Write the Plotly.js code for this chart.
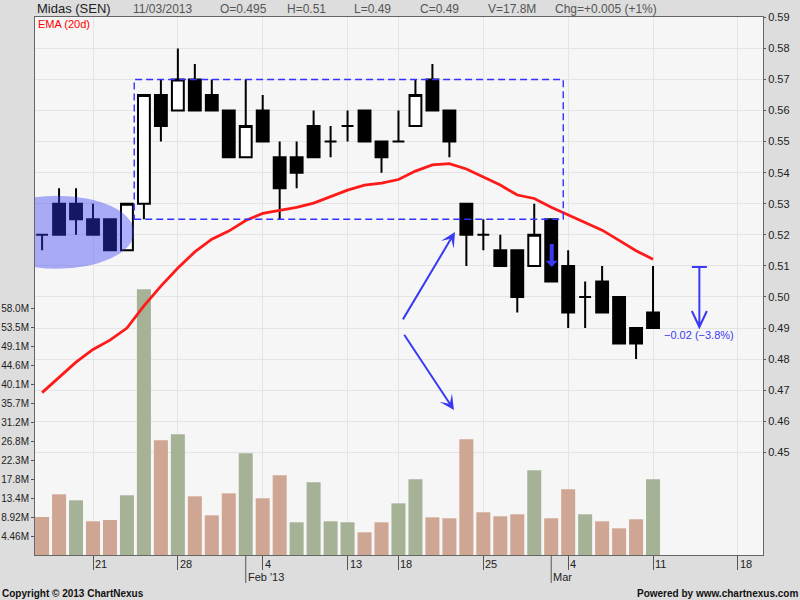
<!DOCTYPE html>
<html>
<head>
<meta charset="utf-8">
<script src="https://cdn.plot.ly/plotly-3.0.1.min.js"></script>
<style>
html,body{margin:0;padding:0;background:#dddddd;}
#chart{width:800px;height:600px;}
</style>
</head>
<body>
<div id="chart"></div>
<script>
// ---------------- DATA ----------------
const ticker = 'Midas (SEN)';
const dates = ['2013-01-16','2013-01-17','2013-01-18','2013-01-21','2013-01-22','2013-01-23','2013-01-24','2013-01-25',
  '2013-01-28','2013-01-29','2013-01-30','2013-01-31','2013-02-01','2013-02-04','2013-02-05','2013-02-06','2013-02-07',
  '2013-02-08','2013-02-13','2013-02-14','2013-02-15','2013-02-18','2013-02-19','2013-02-20','2013-02-21','2013-02-22',
  '2013-02-25','2013-02-26','2013-02-27','2013-02-28','2013-03-01','2013-03-04','2013-03-05','2013-03-06','2013-03-07',
  '2013-03-08','2013-03-11'];
const futureDates = ['2013-03-12','2013-03-13','2013-03-14','2013-03-15','2013-03-18'];
const openP  = [0.52,0.53,0.53,0.525,0.525,0.515,0.53,0.565,0.56,0.57,0.565,0.56,0.545,0.56,0.545,0.545,0.555,0.55,0.555,0.56,0.55,0.55,0.555,0.57,0.56,0.53,0.52,0.515,0.515,0.51,0.525,0.51,0.50,0.505,0.50,0.49,0.495];
const highP  = [0.52,0.535,0.535,0.53,0.525,0.53,0.565,0.57,0.58,0.575,0.57,0.56,0.57,0.565,0.55,0.55,0.56,0.555,0.56,0.56,0.55,0.56,0.57,0.575,0.56,0.53,0.525,0.52,0.515,0.53,0.525,0.515,0.505,0.51,0.50,0.49,0.51];
const lowP   = [0.515,0.52,0.52,0.52,0.515,0.515,0.525,0.55,0.56,0.56,0.56,0.545,0.545,0.55,0.525,0.535,0.545,0.545,0.55,0.55,0.54,0.55,0.555,0.56,0.545,0.51,0.515,0.51,0.495,0.51,0.505,0.49,0.49,0.495,0.485,0.48,0.49];
const closeP = [0.52,0.52,0.525,0.52,0.515,0.53,0.565,0.555,0.57,0.56,0.56,0.545,0.555,0.55,0.535,0.54,0.545,0.55,0.555,0.55,0.545,0.55,0.565,0.56,0.55,0.52,0.52,0.51,0.50,0.52,0.505,0.495,0.50,0.495,0.485,0.485,0.49];
const volumeM = [8.93,14.27,12.86,7.92,8.23,14.04,62.47,26.97,28.38,13.8,9.33,14.5,23.9,13.33,18.74,7.69,17.09,7.92,7.69,5.34,7.69,12.15,17.8,8.86,8.63,27.2,10.04,9.1,9.57,19.9,8.63,15.45,9.57,7.92,6.28,8.4,17.8];
const ema20 = [0.4692,0.4742,0.4790,0.4831,0.4861,0.4900,0.4971,0.5035,0.5093,0.5145,0.5186,0.5212,0.5246,0.5269,0.5278,0.5288,0.5302,0.5322,0.5344,0.5360,0.5366,0.5378,0.5405,0.5425,0.5429,0.5412,0.5386,0.5360,0.5328,0.5317,0.5289,0.5264,0.5240,0.5215,0.5182,0.5149,0.5121];
const weekTickDates = ['2013-01-21','2013-01-28','2013-02-04','2013-02-13','2013-02-18','2013-02-25','2013-03-04','2013-03-11','2013-03-18'];
const monthLabels = ["Feb '13", 'Mar'];
const priceTicks = [0.45,0.46,0.47,0.48,0.49,0.50,0.51,0.52,0.53,0.54,0.55,0.56,0.57,0.58,0.59];
const volumeTickLabels = ['4.46M','8.92M','13.4M','17.8M','22.3M','26.8M','31.2M','35.7M','40.1M','44.6M','49.1M','53.5M','58.0M'];
const rangeNote = '\u22120.02 (\u22123.8%)';

// ---------------- DERIVED ----------------
const idx = dates.map((d, i) => i);
const axisDates = dates.concat(futureDates);
const volume = volumeM.map(v => v * 1e6);
const volColors = closeP.map((c, i) => (i > 0 && c > closeP[i - 1]) ? '#a5b296' : '#cfa594');
const tickIdx = weekTickDates.map(d => axisDates.indexOf(d));
const tickText = weekTickDates.map(d => String(+d.slice(8)));
const monthIdx = [];
axisDates.forEach((d, i) => { if (i > 0 && d.slice(5, 7) !== axisDates[i - 1].slice(5, 7)) monthIdx.push(i); });

const last = dates.length - 1;
const fmtP = v => String(+v.toFixed(3));
const dParts = dates[last].split('-');
const chg = closeP[last] - closeP[last - 1];
const pct = Math.round(chg / closeP[last - 1] * 100);
const sign = v => (v >= 0 ? '+' : '\u2212');
const headerItems = [
  dParts[2] + '/' + dParts[1] + '/' + dParts[0],
  'O=' + fmtP(openP[last]),
  'H=' + fmtP(highP[last]),
  'L=' + fmtP(lowP[last]),
  'C=' + fmtP(closeP[last]),
  'V=' + volumeM[last].toFixed(1) + 'M',
  'Chg=' + sign(chg) + Math.abs(chg).toFixed(3) + ' (' + sign(pct) + Math.abs(pct) + '%)'
];

// ---------------- LAYOUT GEOMETRY ----------------
const W = 800, H = 600, ML = 35, MR = 37, MT = 17, MB = 45;
const PW = W - ML - MR, PH = H - MT - MB;
const xRange = [-0.418, 42.48];
const priceRange = [0.41695, 0.5901];
const volRange = [0, 126.5e6];
const px2paperX = p => (p - ML) / PW;
const py2paperY = p => (H - MB - p) / PH;
const FONT = 'Liberation Sans, Arial, sans-serif';
const BLUE = '#3a3af2';

const traces = [
  {
    type: 'bar', x: idx, y: volume, xaxis: 'x', yaxis: 'y',
    marker: { color: volColors, line: { width: 0 } },
    hoverinfo: 'skip'
  },
  {
    type: 'candlestick', x: idx, open: openP, high: highP, low: lowP, close: closeP,
    xaxis: 'x', yaxis: 'y2', whiskerwidth: 0,
    increasing: { line: { color: '#000000', width: 2 }, fillcolor: '#ffffff' },
    decreasing: { line: { color: '#000000', width: 2 }, fillcolor: '#000000' },
    hoverinfo: 'skip'
  },
  {
    type: 'scatter', mode: 'lines', x: idx, y: ema20, xaxis: 'x', yaxis: 'y2',
    line: { color: '#ff1a1a', width: 2.8 }, hoverinfo: 'skip'
  }
];

const annotations = [];
// header
const headerPx = [131, 218, 285, 352, 418, 486, 553];
annotations.push({ xref: 'paper', yref: 'paper', x: px2paperX(35), y: py2paperY(9), xanchor: 'left', yanchor: 'middle',
  text: ticker, showarrow: false, font: { family: FONT, size: 13, color: '#222222' } });
headerItems.forEach((t, i) => annotations.push({ xref: 'paper', yref: 'paper', x: px2paperX(headerPx[i]), y: py2paperY(9),
  xanchor: 'left', yanchor: 'middle', text: t, showarrow: false, font: { family: FONT, size: 12, color: '#555555' } }));
// EMA label
annotations.push({ xref: 'paper', yref: 'paper', x: px2paperX(36), y: py2paperY(24), xanchor: 'left', yanchor: 'middle',
  text: 'EMA (20d)', showarrow: false, font: { family: FONT, size: 11, color: '#ff0000' } });
// x tick labels
tickIdx.forEach((t, i) => annotations.push({ xref: 'x', yref: 'paper', x: t, y: 0, yshift: -9, xshift: 0,
  xanchor: 'left', yanchor: 'middle', text: tickText[i], showarrow: false, font: { family: FONT, size: 11, color: '#222222' } }));
monthIdx.forEach((t, i) => annotations.push({ xref: 'x', yref: 'paper', x: t, y: 0, yshift: -22,
  xanchor: 'left', yanchor: 'middle', text: monthLabels[i], showarrow: false, font: { family: FONT, size: 11, color: '#222222' } }));
// footer
annotations.push({ xref: 'paper', yref: 'paper', x: px2paperX(0), y: py2paperY(593), xanchor: 'left', yanchor: 'middle',
  text: '<b>Copyright \u00a9 2013 ChartNexus</b>', showarrow: false, font: { family: FONT, size: 10, color: '#111111' } });
annotations.push({ xref: 'paper', yref: 'paper', x: px2paperX(800), y: py2paperY(593), xanchor: 'right', yanchor: 'middle',
  text: '<b>Powered by www.chartnexus.com</b>', showarrow: false, font: { family: FONT, size: 10, color: '#111111' } });
// drawn arrows
annotations.push({ xref: 'x', yref: 'y2', axref: 'x', ayref: 'y2', x: 24.33, y: 0.5209, ax: 21.21, ay: 0.4923, text: '',
  showarrow: true, arrowhead: 3, arrowsize: 1.25, arrowwidth: 2, arrowcolor: BLUE, standoff: 0 });
annotations.push({ xref: 'x', yref: 'y2', axref: 'x', ayref: 'y2', x: 24.27, y: 0.4636, ax: 21.28, ay: 0.4883, text: '',
  showarrow: true, arrowhead: 3, arrowsize: 1.25, arrowwidth: 2, arrowcolor: BLUE, standoff: 0 });
annotations.push({ xref: 'x', yref: 'y2', axref: 'x', ayref: 'y2', x: 30.03, y: 0.5097, ax: 30.03, ay: 0.5175, text: '',
  showarrow: true, arrowhead: 1, arrowsize: 0.5, arrowwidth: 4, arrowcolor: BLUE, standoff: 0 });
annotations.push({ xref: 'x', yref: 'y2', x: 38.73, y: 0.4878, xanchor: 'center', yanchor: 'middle', text: rangeNote,
  showarrow: false, font: { family: FONT, size: 11, color: BLUE } });

const mx = 38.73, mh = 0.442;
const shapes = [
  { type: 'circle', xref: 'x', yref: 'y2', x0: -3.66, x1: 5.42, y0: 0.5091, y1: 0.5326,
    fillcolor: 'rgba(56,58,245,0.4)', line: { width: 0 }, layer: 'above' },
  { type: 'rect', xref: 'x', yref: 'y2', x0: 5.43, x1: 30.71, y0: 0.525, y1: 0.57,
    line: { color: '#3333ff', width: 1.4, dash: '7px,4px' }, fillcolor: 'rgba(0,0,0,0)', layer: 'above' },
  { type: 'path', xref: 'x', yref: 'y2', layer: 'above', line: { color: BLUE, width: 2 },
    path: `M${mx - mh},0.50963L${mx + mh},0.50963M${mx},0.50963L${mx},0.49040M${mx - mh},0.49547L${mx},0.49032L${mx + mh},0.49547` }
];
monthIdx.forEach(m => shapes.push({ type: 'line', xref: 'x', yref: 'paper', x0: m, x1: m, y0: 0, y1: -28 / PH,
  line: { color: '#555555', width: 1 } }));

const layout = {
  width: W, height: H,
  margin: { l: ML, r: MR, t: MT, b: MB, pad: 0 },
  paper_bgcolor: '#dddddd', plot_bgcolor: '#f6f6f6',
  showlegend: false, bargap: 0.175, boxgap: 0.3, boxgroupgap: 0,
  font: { family: FONT, size: 11, color: '#222222' },
  xaxis: {
    range: xRange, autorange: false, fixedrange: true,
    tickmode: 'array', tickvals: tickIdx, ticktext: tickText, showticklabels: false,
    ticks: 'outside', ticklen: 14, tickcolor: '#555555', tickwidth: 1,
    showgrid: true, gridcolor: '#e4e4e4', gridwidth: 1, zeroline: false,
    showline: true, linecolor: '#666666', linewidth: 1, mirror: true,
    rangeslider: { visible: false }
  },
  yaxis: {
    range: volRange, autorange: false, fixedrange: true, side: 'left',
    tickmode: 'array', tickvals: volumeTickLabels.map(s => parseFloat(s) * 1e6), ticktext: volumeTickLabels,
    ticks: 'outside', ticklen: 3, tickcolor: '#555555', showgrid: false, zeroline: false,
    showline: true, linecolor: '#666666', linewidth: 1,
    tickfont: { family: FONT, size: 10, color: '#222222' }, automargin: false
  },
  yaxis2: {
    range: priceRange, autorange: false, fixedrange: true, overlaying: 'y', side: 'right',
    tickmode: 'array', tickvals: priceTicks, ticktext: priceTicks.map(v => v.toFixed(2)),
    ticks: 'outside', ticklen: 2, tickcolor: '#555555',
    showgrid: true, gridcolor: '#e4e4e4', gridwidth: 1, zeroline: false,
    showline: true, linecolor: '#666666', linewidth: 1, mirror: false,
    tickfont: { family: FONT, size: 11, color: '#222222' }, automargin: false
  },
  annotations: annotations,
  shapes: shapes
};

Plotly.newPlot('chart', traces, layout, { staticPlot: true, displayModeBar: false });
</script>
</body>
</html>
